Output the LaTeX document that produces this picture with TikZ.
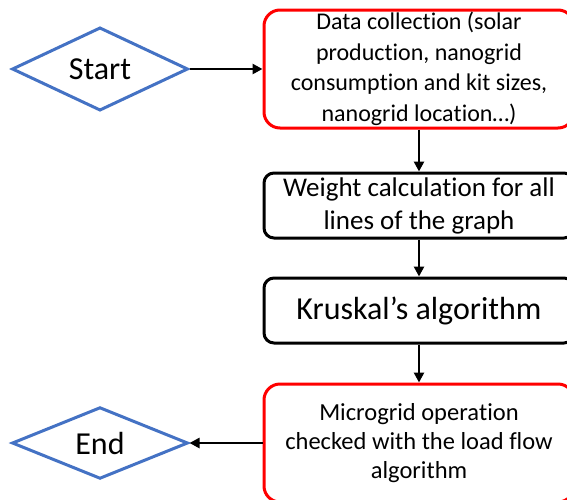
\documentclass[tikz,border=0pt]{standalone}
\usepackage{fontspec}
\setmainfont{Carlito}[Ligatures=NoCommon, RawFeature={-liga;-clig;-calt;-dlig}]
\usetikzlibrary{arrows.meta,positioning,shapes.geometric}
\definecolor{termblue}{HTML}{4472C4}
\definecolor{boxred}{HTML}{FF0000}
\tikzset{
  pbox/.style ={draw=black, line width=3pt, rounded corners=10pt, align=center,
                inner sep=0pt, minimum width=310pt, minimum height=65pt,
                font=\fontsize{27}{33}\selectfont},
  rbox/.style ={pbox, draw=boxred, rounded corners=16pt, minimum height=118pt,
                font=\fontsize{24}{30.5}\selectfont},
  term/.style ={diamond, draw=termblue, line width=3pt, inner sep=0pt,
                minimum width=176pt, minimum height=68pt,
                font=\fontsize{32}{38}\selectfont},
  ar/.style   ={-{Triangle[length=10pt,width=10pt]}, line width=2.6pt, draw=black},
}
\begin{document}
\begin{tikzpicture}[x=1pt,y=-1pt]
\path[use as bounding box, clip] (0,0) rectangle (567,499);
\node[rbox] (data) at (419,69) {Data collection (solar\\produc\kern0pt tion, nanogrid\\consump\kern0pt tion and kit sizes,\\nanogrid loca\kern0pt tion…)};
\node[pbox, below=42pt of data] (wgt) {Weight calculation for all\\lines of the graph};
\node[pbox, below=37pt of wgt, font=\fontsize{32}{38}\selectfont] (krus) {Kruskal’s algorithm};
\node[rbox, below=38pt of krus, font=\fontsize{24.5}{29}\selectfont] (lflow) {Microgrid opera\kern0pt tion\\checked with the load flow\\algorithm};
\node[term, left=73pt of data] (start) {Start};
\node[term, left=73pt of lflow] (end) {End};
\draw[ar] (start) -- (data); \draw[ar] (data) -- (wgt); \draw[ar] (wgt) -- (krus);
\draw[ar] (krus) -- (lflow); \draw[ar] (lflow) -- (end);
\end{tikzpicture}
\end{document}
